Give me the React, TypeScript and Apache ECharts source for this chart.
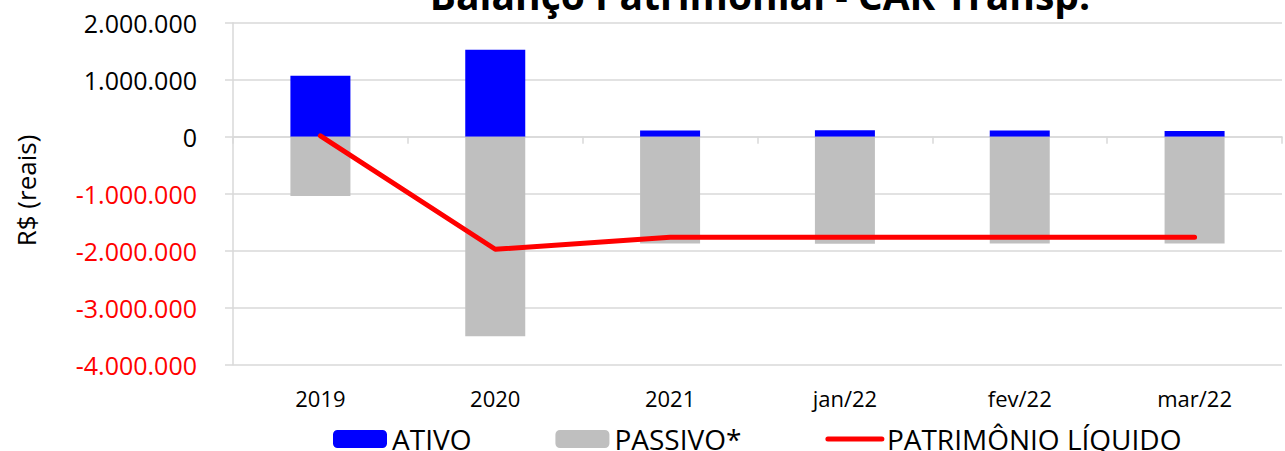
import React, { useEffect, useRef } from "react";
import * as echarts from "echarts";

const categories = ["2019", "2020", "2021", "jan/22", "fev/22", "mar/22"];
const ativo = [1070000, 1525000, 110000, 115000, 110000, 100000];
const passivo = [-1040000, -3500000, -1875000, -1880000, -1875000, -1875000];
const patrimonio = [15000, -1975000, -1765000, -1765000, -1765000, -1765000];
const titleText = "Balanço Patrimonial - CAR Transp.";
const yAxisName = "R$ (reais)";
const legendNames = ["ATIVO", "PASSIVO*", "PATRIMÔNIO LÍQUIDO"];

const fmt = (v: number) => {
  const s = Math.abs(v).toString().replace(/\B(?=(\d{3})+(?!\d))/g, ".");
  return v < 0 ? "-" + s : s;
};

export default function App() {
  const ref = useRef<HTMLDivElement>(null);
  useEffect(() => {
    if (!ref.current) return;
    const chart = echarts.init(ref.current, null, { renderer: "svg" });
    const font = "'Open Sans', 'Noto Sans', sans-serif";
    chart.setOption({
      animation: false,
      backgroundColor: "#ffffff",
      textStyle: { fontFamily: font },
      grid: { left: 233, right: 3, top: 22.7, bottom: 86.3, containLabel: false },
      graphic: [
        {
          type: "text",
          x: 760,
          y: -6,
          style: {
            text: titleText,
            font: "bold 39px 'Open Sans', sans-serif",
            fill: "#000000",
            align: "center",
            verticalAlign: "middle",
          },
        },
        {
          type: "text",
          x: 25.5,
          y: 190.5,
          rotation: Math.PI / 2,
          style: {
            text: yAxisName,
            font: "26px 'Open Sans', sans-serif",
            fill: "#000000",
            align: "center",
            verticalAlign: "middle",
          },
        },
      ],
      legend: {
        data: [
          { name: legendNames[0] },
          { name: legendNames[1] },
          {
            name: legendNames[2],
            itemStyle: { opacity: 0 },
            lineStyle: { width: 5, cap: "round", color: "#ff0000" },
          },
        ],
        left: 333,
        top: 425,
        padding: 0,
        itemWidth: 54,
        itemHeight: 18,
        itemGap: 84,
        textStyle: { fontSize: 28, lineHeight: 26, color: "#000000", fontFamily: font },
      },
      xAxis: [
        {
          type: "category",
          data: categories,
          axisLine: { show: false, onZero: false },
          axisTick: { show: false },
          axisLabel: { color: "#000000", fontSize: 22, margin: 22, fontFamily: font },
          splitLine: { show: false },
        },
        {
          type: "category",
          data: categories,
          position: "bottom",
          axisLine: { show: true, onZero: true, lineStyle: { color: "#d9d9d9", width: 1.5 } },
          axisTick: { show: true, length: 7, lineStyle: { color: "#d9d9d9", width: 1.5 } },
          axisLabel: { show: false },
          splitLine: { show: false },
        },
      ],
      yAxis: {
        type: "value",
        min: -4000000,
        max: 2000000,
        interval: 1000000,
        axisLine: { show: true, lineStyle: { color: "#d9d9d9", width: 1.5 } },
        axisTick: { show: true, length: 8, lineStyle: { color: "#d9d9d9", width: 1.5 } },
        splitLine: { show: true, lineStyle: { color: "#d9d9d9", width: 1.5 } },
        axisLabel: {
          fontSize: 25,
          margin: 36,
          fontFamily: font,
          formatter: (v: number) => fmt(v),
          color: (v: any) => (Number(v) < 0 ? "#ff0000" : "#000000"),
        },
      },
      series: [
        {
          name: legendNames[0],
          type: "bar",
          stack: "bal",
          data: ativo,
          barWidth: 60,
          itemStyle: { color: "#0000ff" },
        },
        {
          name: legendNames[1],
          type: "bar",
          stack: "bal",
          data: passivo,
          barWidth: 60,
          itemStyle: { color: "#bfbfbf" },
        },
        {
          name: legendNames[2],
          type: "line",
          data: patrimonio,
          symbol: "none",
          lineStyle: { color: "#ff0000", width: 5, cap: "round", join: "round" },
          itemStyle: { color: "#ff0000" },
          z: 5,
        },
      ],
    });
    return () => chart.dispose();
  }, []);
  return <div ref={ref} style={{ width: 1285, height: 451, position: "absolute", left: 0, top: 0 }} />;
}
